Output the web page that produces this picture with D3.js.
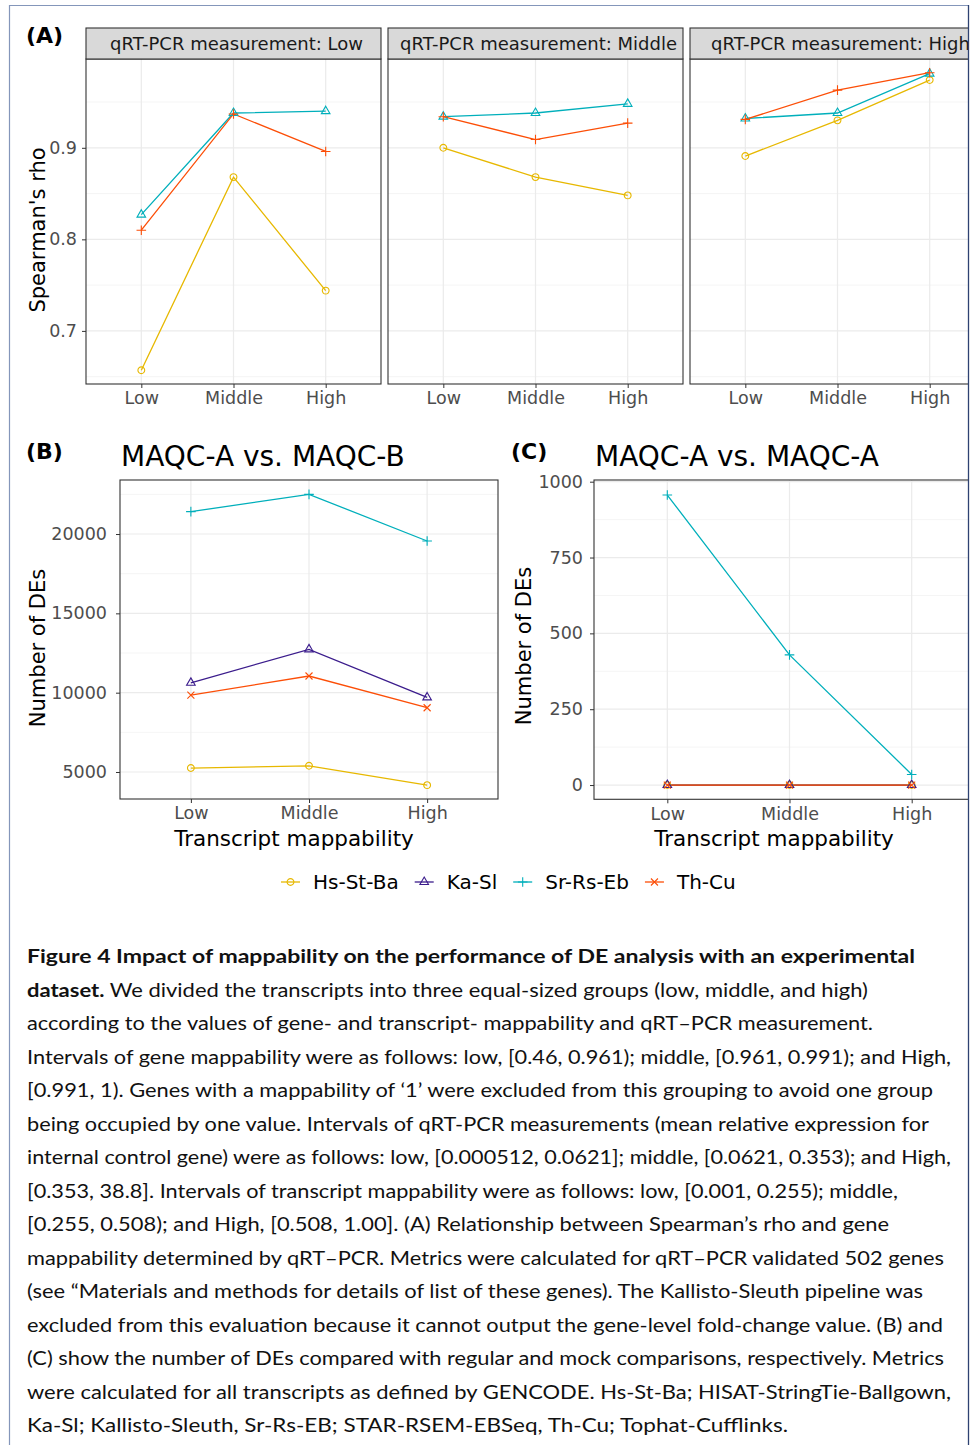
<!DOCTYPE html>
<html>
<head>
<meta charset="utf-8">
<script src="https://cdn.jsdelivr.net/npm/d3@7"></script>
<style>
  body { margin: 0; background: #fff; }
  svg { display: block; font-family: "DejaVu Sans", sans-serif; }
</style>
</head>
<body>
<div id="fig"></div>
<script>
// ---- data ----
const mapLevels = ["Low", "Middle", "High"];
const qpcrFacets = ["Low", "Middle", "High"];
const methods = ["Hs-St-Ba", "Ka-Sl", "Sr-Rs-Eb", "Th-Cu"];
const methodColors = ["#E7B800", "#3B1C8C", "#00AFBB", "#FC4E07"];
const methodShapes = ["circle", "triangle", "plus", "times"];

// (A) Spearman's rho, one row per qRT-PCR facet (Low, Middle, High)
const rhoHsStBa = [[0.657, 0.868, 0.744], [0.900, 0.868, 0.848], [0.891, 0.930, 0.974]];
const rhoSrRsEb = [[0.827, 0.938, 0.940], [0.934, 0.938, 0.948], [0.932, 0.938, 0.981]];
const rhoThCu   = [[0.810, 0.937, 0.896], [0.934, 0.909, 0.927], [0.931, 0.963, 0.982]];
const rhoTicks = [0.7, 0.8, 0.9];
const rhoMinor = [0.65, 0.75, 0.85, 0.95];

// (B) MAQC-A vs. MAQC-B, number of DEs
const degABHsStBa = [5250, 5390, 4170];
const degABKaSl   = [10620, 12730, 9700];
const degABSrRsEb = [21410, 22500, 19560];
const degABThCu   = [9850, 11050, 9050];
const degABTicks = [5000, 10000, 15000, 20000];
const degABMinor = [7500, 12500, 17500, 22500];

// (C) MAQC-A vs. MAQC-A, number of DEs
const degAAHsStBa = [0, 0, 0];
const degAAKaSl   = [0, 0, 0];
const degAASrRsEb = [956, 429, 35];
const degAAThCu   = [0, 0, 0];
const degAATicks = [0, 250, 500, 750, 1000];
const degAAMinor = [125, 375, 625, 875];

const captionLines = [
  {bold: "Figure 4 Impact of mappability on the performance of DE analysis with an experimental", rest: "", end: 915},
  {bold: "dataset.", rest: " We divided the transcripts into three equal-sized groups (low, middle, and high)", end: 868},
  {bold: "", rest: "according to the values of gene- and transcript- mappability and qRT\u2013PCR measurement.", end: 873},
  {bold: "", rest: "Intervals of gene mappability were as follows: low, [0.46, 0.961); middle, [0.961, 0.991); and High,", end: 951},
  {bold: "", rest: "[0.991, 1). Genes with a mappability of \u20181\u2019 were excluded from this grouping to avoid one group", end: 933},
  {bold: "", rest: "being occupied by one value. Intervals of qRT-PCR measurements (mean relative expression for", end: 929},
  {bold: "", rest: "internal control gene) were as follows: low, [0.000512, 0.0621]; middle, [0.0621, 0.353); and High,", end: 951},
  {bold: "", rest: "[0.353, 38.8]. Intervals of transcript mappability were as follows: low, [0.001, 0.255); middle,", end: 898},
  {bold: "", rest: "[0.255, 0.508); and High, [0.508, 1.00]. (A) Relationship between Spearman\u2019s rho and gene", end: 889},
  {bold: "", rest: "mappability determined by qRT\u2013PCR. Metrics were calculated for qRT\u2013PCR validated 502 genes", end: 944},
  {bold: "", rest: "(see \u201CMaterials and methods for details of list of these genes). The Kallisto-Sleuth pipeline was", end: 923},
  {bold: "", rest: "excluded from this evaluation because it cannot output the gene-level fold-change value. (B) and", end: 943},
  {bold: "", rest: "(C) show the number of DEs compared with regular and mock comparisons, respectively. Metrics", end: 944},
  {bold: "", rest: "were calculated for all transcripts as defined by GENCODE. Hs-St-Ba; HISAT-StringTie-Ballgown,", end: 951},
  {bold: "", rest: "Ka-Sl; Kallisto-Sleuth, Sr-Rs-EB; STAR-RSEM-EBSeq, Th-Cu; Tophat-Cufflinks.", end: 788}
];

// ---- marker shapes (ggplot 1, 2, 3, 4) ----
const shapePath = {
  circle: () => { const r = 3.4; return `M${r},0A${r},${r},0,1,1,${-r},0A${r},${r},0,1,1,${r},0Z`; },
  triangle: () => { const s = 8.6, h = s * 0.866; return `M0,${-2 * h / 3}L${s / 2},${h / 3}L${-s / 2},${h / 3}Z`; },
  plus: () => { const a = 4.8; return `M${-a},0H${a}M0,${-a}V${a}`; },
  times: () => { const b = 3.5; return `M${-b},${-b}L${b},${b}M${-b},${b}L${b},${-b}`; }
};

const W = 971, H = 1445;
const svg = d3.select("#fig").append("svg").attr("width", W).attr("height", H);
svg.append("defs").append("clipPath").attr("id", "figClip")
  .append("rect").attr("x", 0).attr("y", 0).attr("width", 968).attr("height", H);
const fig = svg.append("g").attr("clip-path", "url(#figClip)");

// draw one ggplot-like panel (theme_bw)
function drawPanel(g, p) {
  const x = d3.scalePoint().domain(mapLevels).range([p.left, p.left + p.width]).padding(0.6);
  const right = p.left + p.width, bottom = p.top + p.height;

  g.append("rect").attr("x", p.left).attr("y", p.top).attr("width", p.width).attr("height", p.height).attr("fill", "#fff");

  g.selectAll(null).data(p.minor).join("line")
    .attr("x1", p.left).attr("x2", right)
    .attr("y1", d => p.y(d)).attr("y2", d => p.y(d))
    .attr("stroke", "#f2f2f2").attr("stroke-width", 0.8);
  g.selectAll(null).data(p.ticks).join("line")
    .attr("x1", p.left).attr("x2", right)
    .attr("y1", d => p.y(d)).attr("y2", d => p.y(d))
    .attr("stroke", "#ebebeb").attr("stroke-width", 1.2);
  g.selectAll(null).data(mapLevels).join("line")
    .attr("x1", d => x(d)).attr("x2", d => x(d))
    .attr("y1", p.top).attr("y2", bottom)
    .attr("stroke", "#ebebeb").attr("stroke-width", 1.2);

  const line = d3.line().x((d, i) => x(mapLevels[i])).y(d => p.y(d));
  p.series.forEach(s => {
    g.append("path").datum(s.values).attr("d", line)
      .attr("fill", "none").attr("stroke", s.color).attr("stroke-width", 1.3);
  });
  p.series.forEach(s => {
    g.selectAll(null).data(s.values).join("path")
      .attr("transform", (d, i) => `translate(${x(mapLevels[i])},${p.y(d)})`)
      .attr("d", shapePath[s.shape]())
      .attr("fill", "none").attr("stroke", s.color).attr("stroke-width", 1.1);
  });

  g.append("rect").attr("x", p.left).attr("y", p.top).attr("width", p.width).attr("height", p.height)
    .attr("fill", "none").attr("stroke", "#333").attr("stroke-width", 1.1);

  const gx = g.append("g").attr("transform", `translate(0,${bottom})`)
    .call(d3.axisBottom(x).tickSize(4).tickPadding(4));
  gx.select(".domain").remove();
  gx.attr("font-family", null).attr("font-size", 17.5);
  gx.selectAll("line").attr("stroke", "#333");
  gx.selectAll("text").attr("fill", "#4d4d4d");

  if (p.showY) {
    const gy = g.append("g").attr("transform", `translate(${p.left},0)`)
      .call(d3.axisLeft(p.y).tickValues(p.ticks).tickSize(4).tickPadding(p.ypad).tickFormat(p.fmt));
    gy.select(".domain").remove();
    gy.attr("font-family", null).attr("font-size", 17.5);
    gy.selectAll("line").attr("stroke", "#333");
    gy.selectAll("text").attr("fill", "#4d4d4d");
  }
  return x;
}

// ---- (A) ----
const yA = d3.scaleLinear().domain([0.642, 0.997]).range([384, 59]);
const facetLeft = d3.scalePoint().domain(qpcrFacets).range([86, 690]);
const rhoSeries = [
  {data: rhoHsStBa, color: methodColors[0], shape: "circle"},
  {data: rhoSrRsEb, color: methodColors[2], shape: "triangle"},
  {data: rhoThCu, color: methodColors[3], shape: "plus"}
];
qpcrFacets.forEach((f, fi) => {
  const left = facetLeft(f);
  const g = fig.append("g");
  drawPanel(g, {
    left: left, top: 59, width: 295, height: 325, y: yA,
    ticks: rhoTicks, minor: rhoMinor, showY: fi === 0, ypad: 5, fmt: d3.format(".1f"),
    series: rhoSeries.map(s => ({values: s.data[fi], color: s.color, shape: s.shape}))
  });
  g.append("rect").attr("x", left).attr("y", 28).attr("width", 295).attr("height", 31)
    .attr("fill", "#d9d9d9").attr("stroke", "#333").attr("stroke-width", 1.1);
  g.append("text").attr("x", left + 147.5 + 3).attr("y", 50).attr("text-anchor", "middle")
    .attr("font-size", 18).attr("fill", "#1a1a1a").text("qRT-PCR measurement: " + f);
});
fig.append("text").attr("x", 26).attr("y", 43).attr("font-size", 22).attr("font-weight", "bold").text("(A)");
fig.append("text").attr("transform", "translate(45,230) rotate(-90)").attr("text-anchor", "middle")
  .attr("font-size", 21).text("Spearman's rho");

// ---- (B) ----
const yB = d3.scaleLinear().domain([3298, 23405]).range([799, 480]);
drawPanel(fig.append("g"), {
  left: 120, top: 480, width: 378, height: 319, y: yB,
  ticks: degABTicks, minor: degABMinor, showY: true, ypad: 9, fmt: d3.format("d"),
  series: [degABHsStBa, degABKaSl, degABSrRsEb, degABThCu].map((v, i) => ({values: v, color: methodColors[i], shape: methodShapes[i]}))
});
fig.append("text").attr("x", 26).attr("y", 459).attr("font-size", 22).attr("font-weight", "bold").text("(B)");
fig.append("text").attr("x", 121).attr("y", 466).attr("font-size", 28).text("MAQC-A vs. MAQC-B");
fig.append("text").attr("transform", "translate(45,648) rotate(-90)").attr("text-anchor", "middle")
  .attr("font-size", 21).text("Number of DEs");
fig.append("text").attr("x", 294).attr("y", 846).attr("text-anchor", "middle")
  .attr("font-size", 21.5).text("Transcript mappability");

// ---- (C) ----
const yC = d3.scaleLinear().domain([-47, 1005.6]).range([799.3, 480]);
drawPanel(fig.append("g"), {
  left: 594, top: 480, width: 391, height: 319.3, y: yC,
  ticks: degAATicks, minor: degAAMinor, showY: true, ypad: 7, fmt: d3.format("d"),
  series: [degAAHsStBa, degAAKaSl, degAASrRsEb, degAAThCu].map((v, i) => ({values: v, color: methodColors[i], shape: methodShapes[i]}))
});
fig.append("text").attr("x", 511).attr("y", 459).attr("font-size", 22).attr("font-weight", "bold").text("(C)");
fig.append("text").attr("x", 595).attr("y", 466).attr("font-size", 28).text("MAQC-A vs. MAQC-A");
fig.append("text").attr("transform", "translate(531,646) rotate(-90)").attr("text-anchor", "middle")
  .attr("font-size", 21).text("Number of DEs");
fig.append("text").attr("x", 774).attr("y", 846).attr("text-anchor", "middle")
  .attr("font-size", 21.5).text("Transcript mappability");

// ---- legend ----
let lx = 281;
const legendY = 882;
methods.forEach((m, i) => {
  const g = fig.append("g");
  g.append("line").attr("x1", lx).attr("x2", lx + 19).attr("y1", legendY).attr("y2", legendY)
    .attr("stroke", methodColors[i]).attr("stroke-width", 1.3);
  g.append("path").attr("transform", `translate(${lx + 9.5},${legendY})`).attr("d", shapePath[methodShapes[i]]())
    .attr("fill", "none").attr("stroke", methodColors[i]).attr("stroke-width", 1.1);
  const t = g.append("text").attr("x", lx + 32).attr("y", legendY + 7).attr("font-size", 20).text(m);
  lx = lx + 32 + t.node().getComputedTextLength() + 16;
});

// ---- caption ----
const cap = fig.append("g").attr("font-family", "Lato, 'Open Sans', sans-serif").attr("font-size", 19.5).attr("fill", "#111");
captionLines.forEach((c, i) => {
  const t = cap.append("text").attr("x", 27).attr("y", 963 + i * 33.5)
    .attr("textLength", c.end - 27).attr("lengthAdjust", "spacingAndGlyphs");
  if (c.bold) t.append("tspan").attr("font-weight", "bold").text(c.bold);
  if (c.rest) t.append("tspan").text(c.rest);
});

// ---- frame ----
svg.append("path").attr("d", `M9.5,${H}V5.5H968`).attr("fill", "none").attr("stroke", "#8496ba").attr("stroke-width", 1.2);
svg.append("line").attr("x1", 968.5).attr("x2", 968.5).attr("y1", 5).attr("y2", H).attr("stroke", "#2e4272").attr("stroke-width", 1.3);
</script>
</body>
</html>
